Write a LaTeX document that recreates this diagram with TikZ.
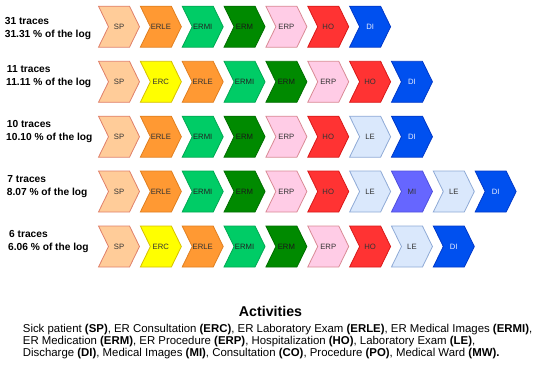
\documentclass[tikz,border=0pt]{standalone}
\usepackage{fontspec}
\setmainfont{Liberation Sans}
\definecolor{fSP}{HTML}{FFCC99}\definecolor{dSP}{HTML}{E0806A}\definecolor{tSP}{HTML}{333333}
\definecolor{fERC}{HTML}{FFFF00}\definecolor{dERC}{HTML}{D6C000}\definecolor{tERC}{HTML}{333333}
\definecolor{fERLE}{HTML}{FF9933}\definecolor{dERLE}{HTML}{E07F20}\definecolor{tERLE}{HTML}{333333}
\definecolor{fERMI}{HTML}{00CC66}\definecolor{dERMI}{HTML}{00A852}\definecolor{tERMI}{HTML}{222222}
\definecolor{fERM}{HTML}{008A00}\definecolor{dERM}{HTML}{006E00}\definecolor{tERM}{HTML}{1A1A1A}
\definecolor{fERP}{HTML}{FFCCE6}\definecolor{dERP}{HTML}{D98A95}\definecolor{tERP}{HTML}{333333}
\definecolor{fHO}{HTML}{FF3333}\definecolor{dHO}{HTML}{D81818}\definecolor{tHO}{HTML}{333333}
\definecolor{fDI}{HTML}{0050EF}\definecolor{dDI}{HTML}{0038C8}\definecolor{tDI}{HTML}{E6ECFF}
\definecolor{fLE}{HTML}{DAE8FC}\definecolor{dLE}{HTML}{8FAAD6}\definecolor{tLE}{HTML}{333333}
\definecolor{fMI}{HTML}{6666FF}\definecolor{dMI}{HTML}{5050DD}\definecolor{tMI}{HTML}{333333}
\newcommand\chevrow[3]{% #1 row name, #2 y center, #3 list
  \foreach \t [count=\i from 0] in {#3} {
    \path[fill=f\t, draw=d\t, line width=0.8pt, line join=miter]
      (98.5+\i*41.85, #2-20.5) -- ++(31,0) -- ++(10,20.5) -- ++(-10,20.5)
      -- ++(-31,0) -- ++(10,-20.5) -- cycle;
    \node[chevtext, text=t\t] (#1c\i) at (98.5+\i*41.85+20.5, #2) {\t};
  }
}
\begin{document}
\begin{tikzpicture}[x=1pt, y=-1pt,
  chevtext/.style={inner sep=0pt, font=\fontsize{7.7}{9}\selectfont},
  rowlabel/.style={anchor=base west, inner sep=0pt, font=\fontsize{10.2}{12}\selectfont\bfseries},
  legendline/.style={anchor=base west, inner sep=0pt, font=\fontsize{11.4}{13}\selectfont},
  legendtitle/.style={anchor=base, inner sep=0pt, font=\fontsize{14.2}{16}\selectfont\bfseries}]
\useasboundingbox (0,0) rectangle (550,367);

% row labels
\node[rowlabel] (l1a) at (4.7,24.3) {31 traces};
\node[rowlabel] (l1b) at (4.7,37.9) {31.31 \% of the log};
\node[rowlabel] (l2a) at (6.7,72.6) {11 traces};
\node[rowlabel] (l2b) at (6.0,85.9) {11.11 \% of the log};
\node[rowlabel] (l3a) at (6.7,127.6) {10 traces};
\node[rowlabel] (l3b) at (6.0,140.9) {10.10 \% of the log};
\node[rowlabel] (l4a) at (7.3,182.3) {7 traces};
\node[rowlabel] (l4b) at (6.7,195.6) {8.07 \% of the log};
\node[rowlabel] (l5a) at (9.0,237.3) {6 traces};
\node[rowlabel] (l5b) at (8.0,250.6) {6.06 \% of the log};

% chevron rows
\chevrow{ra}{26.7}{SP,ERLE,ERMI,ERM,ERP,HO,DI}
\chevrow{rb}{81.8}{SP,ERC,ERLE,ERMI,ERM,ERP,HO,DI}
\chevrow{rc}{136.7}{SP,ERLE,ERMI,ERM,ERP,HO,LE,DI}
\chevrow{rd}{191.5}{SP,ERLE,ERMI,ERM,ERP,HO,LE,MI,LE,DI}
\chevrow{re}{246.5}{SP,ERC,ERLE,ERMI,ERM,ERP,HO,LE,DI}

% legend
\node[legendtitle] (acttitle) at (270.5,316.8) {Activities};
\node[legendline] (leg1) at (22.7,332.3) {Sick patient \textbf{(SP)}, ER Consultation \textbf{(ERC)}, ER Laboratory Exam \textbf{(ERLE)}, ER Medical Images \textbf{(ERMI)},};
\node[legendline] (leg2) at (22.7,344.3) {ER Medication \textbf{(ERM)}, ER Procedure \textbf{(ERP)}, Hospitalization \textbf{(HO)}, Laboratory Exam \textbf{(LE)},};
\node[legendline] (leg3) at (22.7,356.3) {Discharge \textbf{(DI)}, Medical Images \textbf{(MI)}, Consultation \textbf{(CO)}, Procedure \textbf{(PO)}, Medical Ward \textbf{(MW).}};
\end{tikzpicture}
\end{document}
